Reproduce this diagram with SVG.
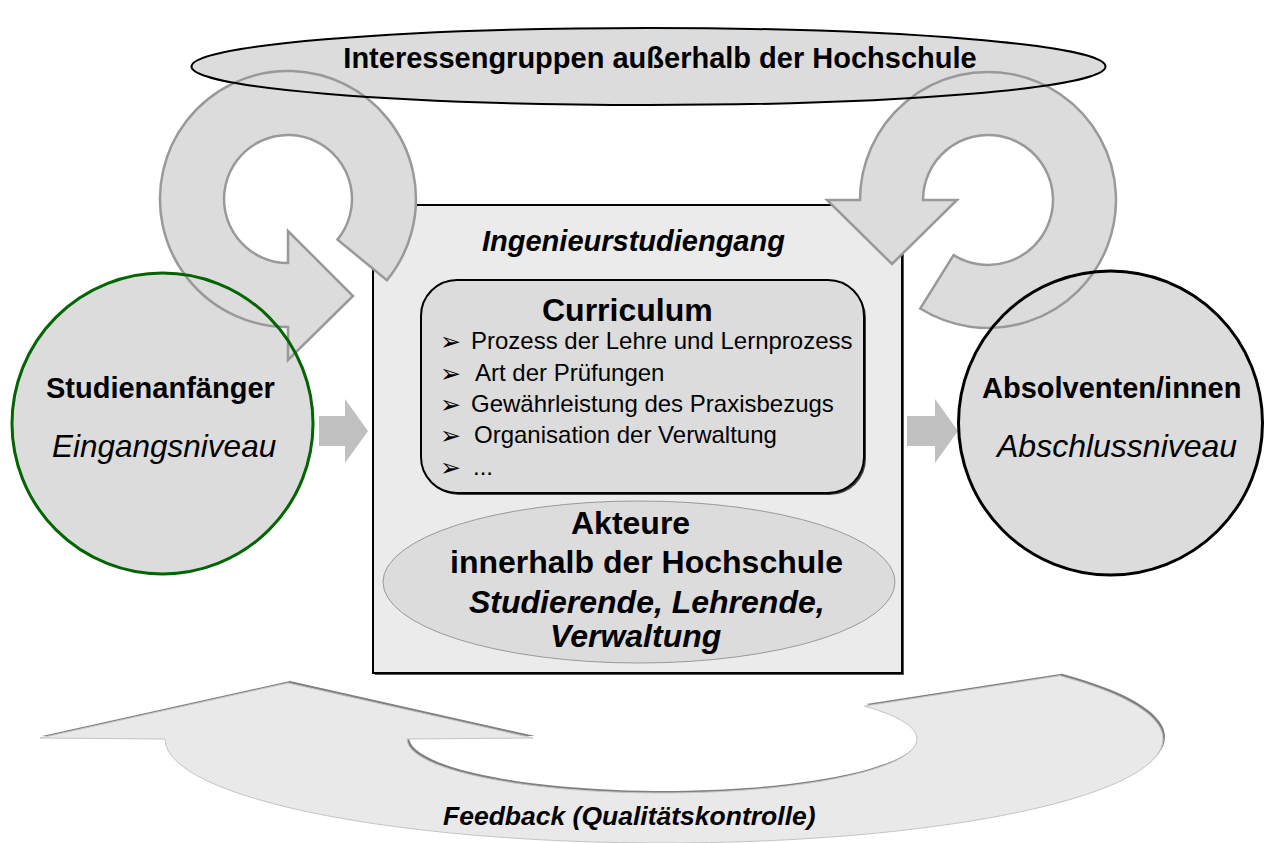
<svg xmlns="http://www.w3.org/2000/svg" width="1265" height="843" viewBox="0 0 1265 843">
<style>
  .sans { font-family: "Liberation Sans", Arial, Helvetica, sans-serif; fill: #000; }
  .b { font-weight: bold; }
  .i { font-style: italic; }
  .ring { fill: #dcdcdc; stroke: #999999; stroke-width: 2.5; stroke-linejoin: miter; }
  .blk { fill: #c0c0c0; stroke: none; }
  .bullet { font-family: "DejaVu Sans", sans-serif; font-size: 25px; fill: #000; }
  .item { font-size: 24px; }
</style>
<defs>
  <path id="fbShape" d="M 1059.9 675.7 A 499 104 0 1 1 165 739 L 40 738 L 288 683 L 533 738 L 407 739 A 255 54 0 1 0 864.3 706.1 Z"/>
</defs>
<rect width="1265" height="843" fill="#ffffff"/>

<!-- top ellipse fill (under rings) -->
<g id="stakeholders">
  <ellipse cx="648.5" cy="66.5" rx="457" ry="38.5" fill="#dcdcdc"/>
</g>

<!-- central study programme box -->
<g id="programme">
  <rect x="375" y="207" width="529" height="468" fill="#555555"/>
  <rect x="373" y="205" width="529" height="468" fill="#ebebeb" stroke="#000" stroke-width="2"/>
  <text class="sans b i" x="482" y="251" font-size="29">Ingenieurstudiengang</text>
</g>

<g id="curriculum">
  <rect x="423" y="282" width="443" height="213" rx="36" ry="36" fill="#444444"/>
  <rect x="421" y="280" width="443" height="213" rx="36" ry="36" fill="#dcdcdc" stroke="#000" stroke-width="2"/>
  <text class="sans b" x="542" y="321" font-size="32">Curriculum</text>
  <text class="bullet" x="440" y="350">➢</text>
  <text class="bullet" x="440" y="382">➢</text>
  <text class="bullet" x="440" y="413">➢</text>
  <text class="bullet" x="440" y="444">➢</text>
  <text class="bullet" x="440" y="476">➢</text>
  <text class="sans item" x="471" y="349">Prozess der Lehre und Lernprozess</text>
  <text class="sans item" x="475" y="381">Art der Prüfungen</text>
  <text class="sans item" x="471" y="412">Gewährleistung des Praxisbezugs</text>
  <text class="sans item" x="474" y="443">Organisation der Verwaltung</text>
  <text class="sans item" x="473" y="475">...</text>
</g>

<g id="actors">
  <ellipse cx="639" cy="582" rx="256" ry="81" fill="#dcdcdc" stroke="#999999" stroke-width="1"/>
  <text class="sans b" x="571" y="534" font-size="32">Akteure</text>
  <text class="sans b" x="450" y="573" font-size="32">innerhalb der Hochschule</text>
  <text class="sans b i" x="469" y="613" font-size="32">Studierende, Lehrende,</text>
  <text class="sans b i" x="550" y="647" font-size="32">Verwaltung</text>
</g>

<!-- circle fills (under rings) -->
<g id="beginners">
  <circle cx="162.5" cy="423.5" r="150.5" fill="#dcdcdc"/>
</g>
<g id="graduates">
  <circle cx="1110.5" cy="423" r="152" fill="#dcdcdc"/>
</g>

<g id="connectors">
  <!-- circular arrows -->
  <path class="ring" d="M 386.9 280.2 A 128 128 0 1 0 288 327 L 288 360 L 353 296 L 288 231 L 288 263 A 64 64 0 1 1 337.5 239.6 Z"/>
  <path class="ring" d="M 920.2 308.5 A 128 128 0 1 0 860 200 L 827 200 L 892 264 L 957 200 L 923 200 A 65 65 0 1 1 953.6 255.1 Z"/>
  <!-- block arrows -->
  <polygon class="blk" points="319,416 345,416 345,399 368,431 345,463 345,446 319,446"/>
  <polygon class="blk" points="907,416 935,416 935,399 958,431 935,463 935,446 907,446"/>
  <!-- feedback arrow -->
  <use href="#fbShape" transform="translate(2,-2)" fill="#808080"/>
  <use href="#fbShape" fill="#e9e9e9" stroke="#c4c4c4" stroke-width="1"/>
  <text class="sans b i" x="443" y="825" font-size="26.5">Feedback (Qualitätskontrolle)</text>
</g>

<!-- outlines and labels drawn over the rings -->
<g id="stakeholders-label">
  <ellipse cx="648.5" cy="66.5" rx="457" ry="38.5" fill="none" stroke="#000" stroke-width="2"/>
  <text class="sans b" x="660" y="68" font-size="29" text-anchor="middle">Interessengruppen außerhalb der Hochschule</text>
</g>
<g id="beginners-label">
  <circle cx="162.5" cy="423.5" r="150.5" fill="none" stroke="#006400" stroke-width="3"/>
  <text class="sans b" x="46" y="398" font-size="29">Studienanfänger</text>
  <text class="sans i" x="52" y="457" font-size="31.5">Eingangsniveau</text>
</g>
<g id="graduates-label">
  <circle cx="1110.5" cy="423" r="152" fill="none" stroke="#000" stroke-width="3"/>
  <text class="sans b" x="982" y="398" font-size="29">Absolventen/innen</text>
  <text class="sans i" x="997" y="457" font-size="32">Abschlussniveau</text>
</g>
</svg>
